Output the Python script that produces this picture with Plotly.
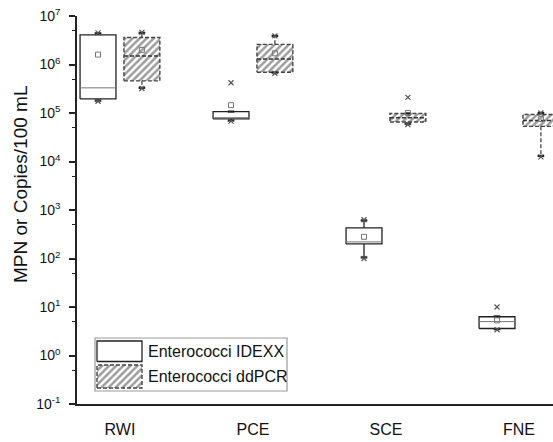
import plotly.graph_objects as go

categories = ["RWI", "PCE", "SCE", "FNE"]
series_names = ["Enterococci IDEXX", "Enterococci ddPCR"]

# IDEXX (MPN/100 mL)
idexx_q1 = [1.95e5, 7.6e4, 2.0e2, 3.6]
idexx_median = [3.3e5, 8.0e4, 2.2e2, 5.0]
idexx_q3 = [4.1e6, 1.07e5, 4.3e2, 6.3]
idexx_mean = [1.6e6, 1.45e5, 2.8e2, 5.3]
idexx_lower_whisker = [1.8e5, 7.0e4, 1.05e2, 3.5]
idexx_upper_whisker = [4.4e6, 1.07e5, 6.1e2, 6.4]
idexx_min = [1.75e5, 6.8e4, 1.0e2, 3.4]
idexx_max = [4.5e6, 4.2e5, 6.3e2, 10.0]

# ddPCR (copies/100 mL)
ddpcr_q1 = [4.6e5, 6.9e5, 6.5e4, 5.3e4]
ddpcr_median = [1.5e6, 1.3e6, 8.0e4, 7.0e4]
ddpcr_q3 = [3.6e6, 2.6e6, 9.8e4, 9.3e4]
ddpcr_mean = [2.0e6, 1.7e6, 1.0e5, 7.5e4]
ddpcr_lower_whisker = [3.3e5, 6.8e5, 6.0e4, 1.3e4]
ddpcr_upper_whisker = [4.5e6, 3.9e6, 9.8e4, 1.0e5]
ddpcr_min = [3.2e5, 6.6e5, 5.8e4, 1.25e4]
ddpcr_max = [4.6e6, 3.9e6, 2.1e5, 1.0e5]

ytick_exponents = [-1, 0, 1, 2, 3, 4, 5, 6, 7]
y_title = "MPN or Copies/100 mL"

FONT = "Liberation Sans, Arial, sans-serif"

HATCH = dict(shape="/", fgcolor="#3a3a3a", bgcolor="white", size=5, solidity=0.5)
DASH = "4px,2px"

series = [
    dict(q1=idexx_q1, med=idexx_median, q3=idexx_q3, mean=idexx_mean,
         lw=idexx_lower_whisker, uw=idexx_upper_whisker, mn=idexx_min, mx=idexx_max,
         offset=-0.165, line=dict(color="#222222", width=1.3, dash="solid"),
         median_line=dict(color="#777777", width=1, dash="solid"),
         pattern=None),
    dict(q1=ddpcr_q1, med=ddpcr_median, q3=ddpcr_q3, mean=ddpcr_mean,
         lw=ddpcr_lower_whisker, uw=ddpcr_upper_whisker, mn=ddpcr_min, mx=ddpcr_max,
         offset=0.165, line=dict(color="#444444", width=1.4, dash=DASH),
         median_line=dict(color="#333333", width=1.4, dash=DASH),
         pattern=HATCH),
]

half_w = 0.135
cap_w = 0.025

fig = go.Figure()

for s in series:
    for i, cat in enumerate(categories):
        c = i + 1 + s["offset"]
        l, r = c - half_w, c + half_w
        kw = dict(x=[l, r, r, l, l],
                  y=[s["q1"][i], s["q1"][i], s["q3"][i], s["q3"][i], s["q1"][i]],
                  mode="lines", fill="toself", fillcolor="white",
                  line=s["line"], showlegend=False, hoverinfo="skip")
        if s["pattern"]:
            kw["fillpattern"] = s["pattern"]
        fig.add_trace(go.Scatter(**kw))
        # median
        fig.add_trace(go.Scatter(x=[l, r], y=[s["med"][i], s["med"][i]], mode="lines",
                                 line=s["median_line"], showlegend=False, hoverinfo="skip"))
        # whiskers
        fig.add_trace(go.Scatter(x=[c, c, None, c, c],
                                 y=[s["q3"][i], s["uw"][i], None, s["q1"][i], s["lw"][i]],
                                 mode="lines", line=dict(color=s["line"]["color"], width=1.3,
                                                         dash=s["line"]["dash"]),
                                 showlegend=False, hoverinfo="skip"))
        # caps
        fig.add_trace(go.Scatter(x=[c - cap_w, c + cap_w, None, c - cap_w, c + cap_w],
                                 y=[s["uw"][i], s["uw"][i], None, s["lw"][i], s["lw"][i]],
                                 mode="lines", line=dict(color="#222222", width=2.2),
                                 showlegend=False, hoverinfo="skip"))
        # mean
        fig.add_trace(go.Scatter(x=[c], y=[s["mean"][i]], mode="markers",
                                 marker=dict(symbol="square-open", size=5,
                                             color="#777777", line=dict(width=1)),
                                 showlegend=False, hoverinfo="skip"))
        # min / max
        fig.add_trace(go.Scatter(x=[c, c], y=[s["mn"][i], s["mx"][i]], mode="markers",
                                 marker=dict(symbol="x-thin-open", size=5,
                                             color="#555555", line=dict(width=1.2)),
                                 showlegend=False, hoverinfo="skip"))

# ---- custom legend (overlay axes in paper-like units) ----
L, R, T, B = 77, 553, 16, 404  # plot area in pixels
def px2x(p):
    return (p - L) / (R - L)
def px2y(p):
    return (B - p) / (B - T)

sw_l, sw_r = px2x(97), px2x(142)
sw1 = (px2y(361.5), px2y(341))
sw2 = (px2y(388), px2y(365))
fig.add_trace(go.Scatter(x=[sw_l, sw_r, sw_r, sw_l, sw_l],
                         y=[sw1[0], sw1[0], sw1[1], sw1[1], sw1[0]],
                         xaxis="x2", yaxis="y2", mode="lines", fill="toself",
                         fillcolor="white", line=series[0]["line"],
                         showlegend=False, hoverinfo="skip"))
fig.add_trace(go.Scatter(x=[sw_l, sw_r, sw_r, sw_l, sw_l],
                         y=[sw2[0], sw2[0], sw2[1], sw2[1], sw2[0]],
                         xaxis="x2", yaxis="y2", mode="lines", fill="toself",
                         fillcolor="white", fillpattern=HATCH,
                         line=series[1]["line"], showlegend=False, hoverinfo="skip"))

fig.add_shape(type="rect", xref="paper", yref="paper",
              x0=px2x(95), x1=px2x(287), y0=px2y(391), y1=px2y(338),
              line=dict(color="#999999", width=1.2), fillcolor="rgba(0,0,0,0)")
for name, yc in zip(series_names, [px2y(351), px2y(376.5)]):
    fig.add_annotation(x=px2x(146), y=yc, xref="paper", yref="paper", text=name,
                       showarrow=False, xanchor="left", yanchor="middle",
                       font=dict(family=FONT, size=16, color="#111111"))

# y-axis title
fig.add_annotation(x=px2x(20), y=px2y(185), xref="paper", yref="paper", text=y_title,
                   textangle=-90, showarrow=False, xanchor="center", yanchor="middle",
                   font=dict(family=FONT, size=19, color="#111111"))

fig.update_layout(
    width=553, height=442,
    margin=dict(l=L, r=553 - R, t=T, b=442 - B),
    paper_bgcolor="white", plot_bgcolor="white",
    font=dict(family=FONT, color="#111111"),
    showlegend=False,
    xaxis=dict(range=[0.677, 4.256], tickvals=[1, 2, 3, 4], ticktext=categories,
               showline=True, linecolor="#222222", linewidth=1.5,
               ticks="outside", ticklen=10, tickcolor="rgba(0,0,0,0)",
               showgrid=False, zeroline=False, tickfont=dict(size=16)),
    yaxis=dict(type="log", range=[-1, 7],
               tickvals=[10.0 ** e for e in ytick_exponents],
               ticktext=[f"10<sup>{e}</sup>" for e in ytick_exponents],
               showline=True, linecolor="#222222", linewidth=1.5,
               ticks="outside", ticklen=6, tickwidth=1.5, tickcolor="#222222",
               ticklabelstandoff=6,
               minor=dict(tickvals=[5 * 10.0 ** e for e in ytick_exponents[:-1]],
                          ticks="outside", ticklen=3, tickwidth=1.2, tickcolor="#222222"),
               showgrid=False, zeroline=False, tickfont=dict(size=14)),
    xaxis2=dict(overlaying="x", range=[0, 1], visible=False),
    yaxis2=dict(overlaying="y", range=[0, 1], visible=False),
)

fig.write_html("out.html")
